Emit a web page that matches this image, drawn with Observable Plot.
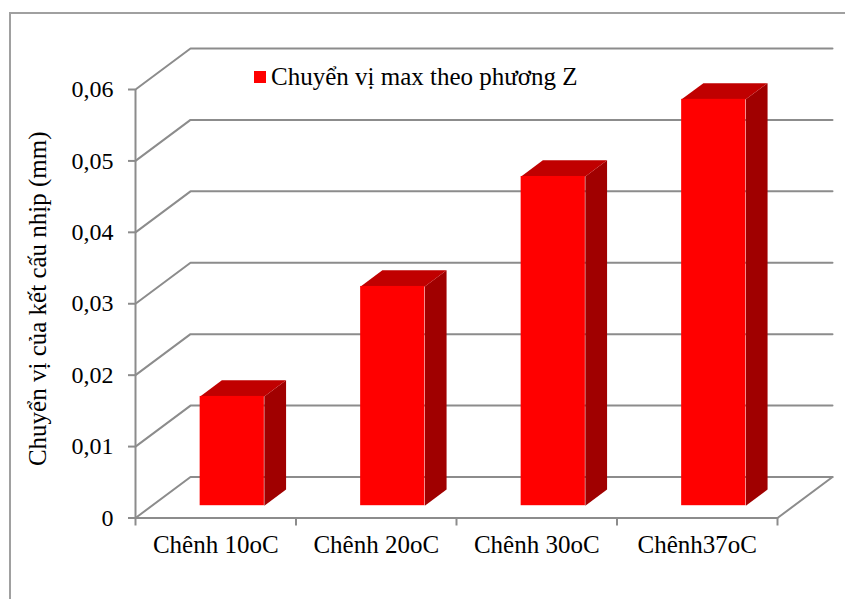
<!DOCTYPE html>
<html lang="vi">
<head>
<meta charset="utf-8">
<script src="https://cdn.jsdelivr.net/npm/d3@7"></script>
<script src="https://cdn.jsdelivr.net/npm/@observablehq/plot@0.6"></script>
<style>
html,body{margin:0;padding:0;background:#fff;overflow:hidden}
#wrap{position:relative;width:845px;height:599px;font-family:"Liberation Serif",serif}
#frame{position:absolute;z-index:5;left:9px;top:12px;width:836px;height:587px;box-sizing:border-box;border-left:2px solid #a0a0a0;border-top:2px solid #a0a0a0}
#legend{position:absolute;z-index:6;left:254px;top:63px;display:flex;align-items:center;font-size:25px;color:#000;white-space:nowrap}
#legend i{display:inline-block;width:12px;height:12px;background:#f00;margin-right:5px}
svg{position:absolute;left:0;top:0}
</style>
</head>
<body>
<div id="wrap"><div id="frame"></div><div id="legend"><i></i><span id="legendText"></span></div></div>
<script>
const categories = ["Chênh 10oC", "Chênh 20oC", "Chênh 30oC", "Chênh37oC"];
const values = [0.0153, 0.0307, 0.0461, 0.0569];
const yTicks = [0, 0.01, 0.02, 0.03, 0.04, 0.05, 0.06];
const seriesName = "Chuyển vị max theo phương Z";
const yTitle = "Chuyển vị của kết cấu nhịp (mm)";
const depthX = 0.3427, depthY = 0.00574;
const barFront = 0.3, barBack = 0.695, barStart = 0.3, barWidth = 0.4;

document.getElementById("legendText").textContent = seriesName;

const pt = (c, v, d) => ({x: c + d * depthX, y: v + d * depthY});
const axisColor = "#8c8c8c";

const wallLines = yTicks.flatMap((v, i) => [
  {...pt(0, v, 0), id: i}, {...pt(0, v, 1), id: i}, {...pt(categories.length, v, 1), id: i}
]);
const floorFront = [pt(0, 0, 0), pt(categories.length, 0, 0), pt(categories.length, 0, 1)];

const sides = values.flatMap((v, i) => {
  const x = i + barStart + barWidth;
  return [pt(x, 0, barFront), pt(x, 0, barBack), pt(x, v, barBack), pt(x, v, barFront)].map(p => ({...p, id: i}));
});
const tops = values.flatMap((v, i) => {
  const a = i + barStart, b = a + barWidth;
  return [pt(a, v, barFront), pt(b, v, barFront), pt(b, v, barBack), pt(a, v, barBack)].map(p => ({...p, id: i}));
});
const fronts = values.map((v, i) => ({
  x1: pt(i + barStart, 0, barFront).x,
  x2: pt(i + barStart + barWidth, 0, barFront).x,
  y1: pt(0, 0, barFront).y,
  y2: pt(0, v, barFront).y
}));

const chart = Plot.plot({
  width: 845, height: 599,
  marginLeft: 135, marginRight: 68, marginTop: 89, marginBottom: 81.5,
  style: {fontFamily: "'Liberation Serif', serif", background: "transparent", color: "#000"},
  x: {domain: [0, categories.length], axis: null},
  y: {domain: [0, 0.06], axis: null},
  marks: [
    Plot.line(wallLines, {x: "x", y: "y", z: "id", stroke: axisColor, strokeWidth: 2, curve: "linear"}),
    Plot.axisY({
      ticks: yTicks, tickSize: 7, stroke: axisColor, strokeWidth: 2,
      tickFormat: d => d === 0 ? "0" : d3.format(".2f")(d).replace(".", ","),
      tickPadding: 15, fontSize: 24, label: null
    }),
    Plot.text([yTitle], {frameAnchor: "left", textAnchor: "middle", rotate: -90, dx: -98, dy: -5, fontSize: 25, fill: "#000", stroke: "none"}),
    Plot.ruleX([0], {y1: 0, y2: 0.06, stroke: axisColor, strokeWidth: 2}),
    Plot.line(floorFront, {x: "x", y: "y", stroke: axisColor, strokeWidth: 2}),
    Plot.axisX({
      ticks: d3.range(categories.length + 1), tickSize: 8,
      tickFormat: () => "", stroke: axisColor, strokeWidth: 2, label: null
    }),
    Plot.axisX({
      ticks: categories.map((_, i) => i + 0.5), tickSize: 0, tickPadding: 17,
      tickFormat: (_, i) => categories[i], fontSize: 25, label: null
    }),
    Plot.line(sides, {x: "x", y: "y", z: "id", fill: "#a00000", stroke: "none"}),
    Plot.line(tops, {x: "x", y: "y", z: "id", fill: "#c00000", stroke: "none"}),
    Plot.rect(fronts, {x1: "x1", x2: "x2", y1: "y1", y2: "y2", fill: "#ff0000", inset: 0})
  ]
});
document.getElementById("wrap").appendChild(chart);
</script>
</body>
</html>
